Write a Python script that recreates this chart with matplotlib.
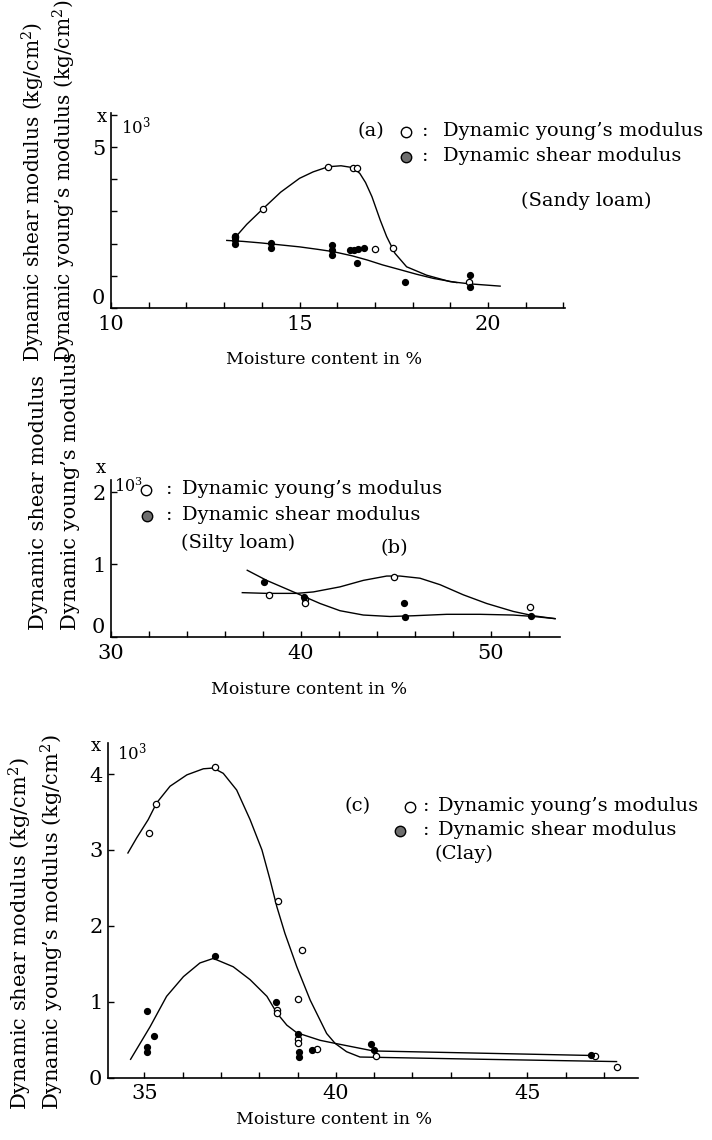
import matplotlib
matplotlib.use('Agg')
import matplotlib.pyplot as plt
from matplotlib.ticker import MultipleLocator, FixedLocator

W, H = 712, 1140
plt.rcParams['font.family'] = ['DejaVu Serif', 'DejaVu Sans']
plt.rcParams['mathtext.fontset'] = 'dejavuserif'

# ---------------- Panel (a) Sandy loam ----------------
a_young_x = [13.3, 14.02, 15.76, 16.43, 16.53, 17.0, 17.47, 19.5]
a_young_y = [2.22, 3.07, 4.39, 4.34, 4.34, 1.83, 1.85, 0.82]
a_shear_x = [13.3, 13.3, 13.3, 14.24, 14.24, 15.87, 15.87, 15.87, 16.35, 16.45,
             16.55, 16.7, 16.53, 17.8, 19.52, 19.52]
a_shear_y = [2.25, 2.1, 2.0, 2.02, 1.88, 1.95, 1.8, 1.65, 1.8, 1.8,
             1.82, 1.85, 1.39, 0.81, 1.02, 0.66]
a_young_curve_x = [13.3, 13.6, 14.0, 14.5, 15.0, 15.36, 15.76, 16.1, 16.43, 16.6,
                   16.75, 16.92, 17.14, 17.31, 17.53, 17.84, 18.37, 18.99, 19.52, 20.32]
a_young_curve_y = [2.2, 2.6, 3.05, 3.6, 4.03, 4.23, 4.39, 4.42, 4.36, 4.18,
                   3.9, 3.46, 2.73, 2.22, 1.70, 1.28, 1.02, 0.82, 0.75, 0.68]
a_shear_curve_x = [13.07, 13.5, 14.0, 14.5, 15.0, 15.5, 15.9, 16.4, 16.8, 17.2,
                   17.7, 18.1, 18.55, 19.17]
a_shear_curve_y = [2.10, 2.07, 2.02, 1.96, 1.90, 1.82, 1.75, 1.62, 1.49, 1.34,
                   1.18, 1.05, 0.92, 0.79]

# ---------------- Panel (b) Silty loam ----------------
b_young_x = [38.3, 40.2, 40.2, 44.9, 52.05]
b_young_y = [0.58, 0.52, 0.47, 0.83, 0.41]
b_shear_x = [38.05, 40.16, 45.4, 45.47, 52.1]
b_shear_y = [0.76, 0.55, 0.46, 0.27, 0.28]
b_young_curve_x = [36.91, 38.19, 39.77, 40.65, 42.05, 43.28, 44.51, 45.21, 46.26,
                   47.32, 48.54, 49.77, 51.17, 52.23, 53.37]
b_young_curve_y = [0.61, 0.60, 0.60, 0.62, 0.69, 0.78, 0.84, 0.84, 0.81,
                   0.72, 0.58, 0.46, 0.35, 0.29, 0.25]
b_shear_curve_x = [37.17, 38.19, 39.25, 40.04, 41.0, 42.05, 43.28, 44.68, 45.91,
                   47.67, 49.42, 51.17, 52.23, 53.37]
b_shear_curve_y = [0.92, 0.78, 0.66, 0.57, 0.46, 0.36, 0.30, 0.28, 0.29,
                   0.31, 0.31, 0.30, 0.28, 0.25]

# ---------------- Panel (c) Clay ----------------
c_young_x = [35.13, 35.3, 36.85, 38.5, 39.12, 39.0, 38.46, 38.46, 39.0, 39.0,
             39.5, 41.05, 46.77, 47.33]
c_young_y = [3.23, 3.61, 4.10, 2.33, 1.68, 1.04, 0.89, 0.85, 0.51, 0.45,
             0.37, 0.29, 0.28, 0.145]
c_shear_x = [35.06, 35.26, 35.06, 35.08, 36.85, 38.45, 39.0, 39.05, 39.05, 39.37,
             40.92, 40.99, 46.65]
c_shear_y = [0.88, 0.55, 0.40, 0.33, 1.60, 0.99, 0.58, 0.34, 0.27, 0.36,
             0.44, 0.36, 0.30]
c_young_curve_x = [34.57, 34.80, 35.10, 35.32, 35.67, 36.11, 36.54, 36.80, 37.06,
                   37.41, 37.76, 38.07, 38.28, 38.46, 38.67, 38.98, 39.33, 39.76,
                   39.98, 40.28, 40.63, 43.85, 47.33]
c_young_curve_y = [2.96, 3.16, 3.40, 3.62, 3.84, 3.99, 4.07, 4.08, 4.01,
                   3.79, 3.40, 3.00, 2.61, 2.25, 1.90, 1.46, 1.02, 0.58,
                   0.45, 0.34, 0.27, 0.24, 0.21]
c_shear_curve_x = [34.64, 35.15, 35.58, 36.02, 36.45, 36.8, 37.32, 37.76, 38.20,
                   38.46, 38.72, 38.98, 39.59, 39.98, 40.98, 46.72]
c_shear_curve_y = [0.24, 0.67, 1.07, 1.33, 1.51, 1.57, 1.46, 1.29, 1.07,
                   0.85, 0.69, 0.59, 0.49, 0.45, 0.35, 0.29]

fig = plt.figure(figsize=(W / 100, H / 100), dpi=100)
fig.patch.set_facecolor('white')


def fx(x):
    return x / W


def fy(y):
    return 1 - y / H


def make_axes(l, r, t, b):
    return fig.add_axes([fx(l), fy(b), (r - l) / W, (b - t) / H])


def style(ax, xlim, ylim, xmaj, xmin, ymaj, ymin):
    ax.set_xlim(*xlim)
    ax.set_ylim(*ylim)
    for s in ['top', 'right']:
        ax.spines[s].set_visible(False)
    for s in ['left', 'bottom']:
        ax.spines[s].set_linewidth(1.2)
    ax.xaxis.set_major_locator(FixedLocator(xmaj))
    ax.xaxis.set_minor_locator(MultipleLocator(xmin))
    ax.yaxis.set_major_locator(FixedLocator(ymaj))
    ax.yaxis.set_minor_locator(MultipleLocator(ymin))
    ax.tick_params(which='both', direction='in', length=4, width=1.0,
                   labelsize=15)
    ax.tick_params(axis='x', pad=5)
    ax.tick_params(axis='y', pad=4)


def draw(ax, yx, yy, sx, sy, ycx, ycy, scx, scy):
    ax.plot(ycx, ycy, color='black', lw=1.0, zorder=2)
    ax.plot(scx, scy, color='black', lw=1.0, zorder=2)
    ax.plot(yx, yy, linestyle='none', marker='o', markersize=4.5,
            markerfacecolor='white', markeredgecolor='black',
            markeredgewidth=0.9, zorder=3)
    ax.plot(sx, sy, linestyle='none', marker='o', markersize=4.2,
            markerfacecolor='black', markeredgecolor='black', zorder=4)


def legend_marker(x, y, filled):
    fc = '#6e6e6e' if filled else 'white'
    fig.add_artist(plt.Line2D([fx(x)], [fy(y)], marker='o', markersize=7.5,
                              markerfacecolor=fc, markeredgecolor='black',
                              markeredgewidth=1.0, linestyle='none',
                              transform=fig.transFigure))


def txt(x, y, s, size=14, ha='left', va='center', **kw):
    fig.text(fx(x), fy(y), s, fontsize=size, ha=ha, va=va, **kw)


def legend_row(mx, colon_x, label_x, y, filled, label):
    legend_marker(mx, y + 1, filled)
    txt(colon_x, y, ':', ha='center')
    txt(label_x, y, label)


# ----- Panel (a)
axa = make_axes(111, 565, 113, 308)
style(axa, (10, 22.04), (0, 6.06), [10, 15, 20], 1, [0, 5], 1)
draw(axa, a_young_x, a_young_y, a_shear_x, a_shear_y,
     a_young_curve_x, a_young_curve_y, a_shear_curve_x, a_shear_curve_y)
axa.get_yticklabels()[0].set_va('bottom')
txt(102, 117, 'x', size=13, ha='center')
txt(121, 126, '10$^3$', size=12)
txt(358, 131, '(a)')
legend_row(406, 425, 443, 131, False, 'Dynamic young\u2019s modulus')
legend_row(406, 425, 443, 156, True, 'Dynamic shear modulus')
txt(521, 201, '(Sandy loam)')
txt(324, 360, 'Moisture content in %', size=12.5, ha='center')
txt(33, 362, 'Dynamic shear modulus (kg/cm$^2$)', size=14.5, rotation=90,
    ha='center', va='bottom')
txt(64.5, 362, 'Dynamic young\u2019s modulus (kg/cm$^2$)', size=14.5, rotation=90,
    ha='center', va='bottom')

# ----- Panel (b)
axb = make_axes(111, 560, 480, 636.7)
style(axb, (30, 53.63), (0, 2.17), [30, 40, 50], 2, [0, 1, 2], 1)
draw(axb, b_young_x, b_young_y, b_shear_x, b_shear_y,
     b_young_curve_x, b_young_curve_y, b_shear_curve_x, b_shear_curve_y)
axb.get_yticklabels()[0].set_va('bottom')
txt(101, 468, 'x', size=13, ha='center')
txt(114, 487, '10$^3$', size=11.5)
legend_row(146, 169, 182, 489, False, 'Dynamic young\u2019s modulus')
legend_row(147, 169, 182, 515, True, 'Dynamic shear modulus')
txt(181, 543, '(Silty loam)')
txt(394, 548, '(b)', ha='center')
txt(309, 690, 'Moisture content in %', size=12.5, ha='center')
txt(39, 630, 'Dynamic shear modulus', size=15, rotation=90, ha='center', va='bottom')
txt(71, 630, 'Dynamic young\u2019s modulus', size=15, rotation=90, ha='center', va='bottom')

# ----- Panel (c)
axc = make_axes(108, 638, 743, 1077.5)
style(axc, (34.05, 47.89), (0, 4.41), [35, 40, 45], 1, [0, 1, 2, 3, 4], 1)
draw(axc, c_young_x, c_young_y, c_shear_x, c_shear_y,
     c_young_curve_x, c_young_curve_y, c_shear_curve_x, c_shear_curve_y)
txt(96, 746, 'x', size=13, ha='center')
txt(117, 752, '10$^3$', size=12)
txt(345, 806, '(c)')
legend_row(410, 426, 438, 806, False, 'Dynamic young\u2019s modulus')
legend_row(400, 426, 438, 830, True, 'Dynamic shear modulus')
txt(435, 854, '(Clay)')
txt(334, 1120, 'Moisture content in %', size=12.5, ha='center')
txt(20, 1110, 'Dynamic shear modulus (kg/cm$^2$)', size=15, rotation=90,
    ha='center', va='bottom')
txt(52, 1110, 'Dynamic young\u2019s modulus (kg/cm$^2$)', size=15, rotation=90,
    ha='center', va='bottom')

fig.savefig('out.png', dpi=100, facecolor='white')
